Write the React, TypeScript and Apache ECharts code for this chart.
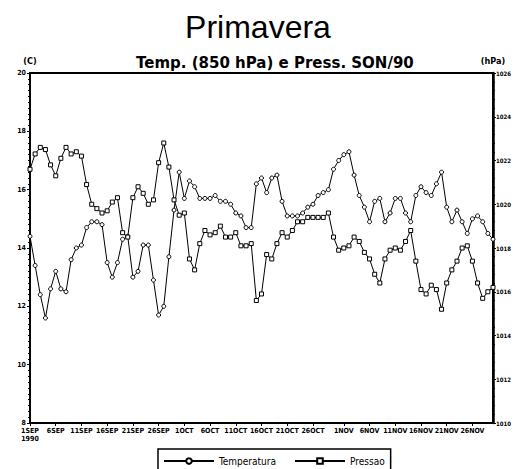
import React, { useEffect, useRef } from "react";
import * as echarts from "echarts";

const months = ["SEP", "OCT", "NOV"];
const monthLengths = [30, 31, 30];
const tickDays = [1, 6, 11, 16, 21, 26];
const yearLabel = "1990";

const temperature = [
  14.4, 13.4, 12.4, 11.6, 12.6, 13.2, 12.6, 12.5, 13.6, 14.0,
  14.1, 14.7, 14.9, 14.9, 14.8, 13.5, 13.0, 13.5, 14.3, 14.4,
  13.0, 13.2, 14.1, 14.1, 12.9, 11.7, 12.0, 13.7, 15.3, 16.6,
  15.7, 16.3, 16.1, 15.7, 15.7, 15.7, 15.8, 15.6, 15.6, 15.5,
  15.2, 15.1, 14.7, 14.7, 16.2, 16.4, 15.9, 16.4, 16.5, 15.6,
  15.1, 15.1, 15.1, 15.2, 15.4, 15.5, 15.8, 15.9, 16.0, 16.7,
  17.0, 17.2, 17.3, 16.5, 15.8, 15.4, 14.9, 15.6, 15.7, 14.9,
  15.2, 15.7, 15.7, 15.2, 14.9, 15.8, 16.1, 15.9, 15.8, 16.2,
  16.6, 15.4, 14.9, 15.3, 14.9, 14.5, 15.0, 15.1, 14.9, 14.5,
  14.3,
];

const pressure = [
  1021.6, 1022.3, 1022.6, 1022.5, 1021.8, 1021.3, 1022.1, 1022.6, 1022.3, 1022.4,
  1022.2, 1020.9, 1020.0, 1019.8, 1019.6, 1019.7, 1020.1, 1020.3, 1018.7, 1018.5,
  1020.3, 1020.8, 1020.5, 1020.0, 1020.2, 1021.9, 1022.8, 1021.7, 1020.2, 1019.5,
  1019.6, 1017.5, 1017.0, 1018.2, 1018.8, 1018.6, 1018.7, 1019.0, 1018.5, 1018.5,
  1018.7, 1018.1, 1018.1, 1018.2, 1015.6, 1015.9, 1017.7, 1017.5, 1018.2, 1018.7,
  1018.5, 1018.8, 1019.2, 1019.2, 1019.4, 1019.4, 1019.4, 1019.4, 1019.6, 1018.5,
  1017.9, 1018.0, 1018.1, 1018.5, 1018.3, 1017.8, 1017.5, 1016.8, 1016.4, 1017.5,
  1017.9, 1018.0, 1017.9, 1018.3, 1018.8, 1017.4, 1016.1, 1015.9, 1016.3, 1016.1,
  1015.2, 1016.4, 1017.0, 1017.4, 1018.0, 1018.1, 1017.4, 1016.4, 1015.7, 1016.0,
  1016.2,
];

const tempAxis = { min: 8, max: 20, step: 2 };
const pressAxis = { min: 1010, max: 1026, step: 2 };

const categories: string[] = [];
const labelSet = new Set<number>();
months.forEach((m, mi) => {
  for (let d = 1; d <= monthLengths[mi]; d++) {
    if (tickDays.includes(d)) labelSet.add(categories.length);
    categories.push(`${d}${m}`);
  }
});

const FONT = "'DejaVu Sans Condensed', 'Liberation Sans Narrow', 'DejaVu Sans', sans-serif";

export default function App() {
  const ref = useRef<HTMLDivElement>(null);
  useEffect(() => {
    if (!ref.current) return;
    const chart = echarts.init(ref.current, undefined, { renderer: "svg" });
    const axisLabelStyle = {
      color: "#000",
      fontSize: 7,
      fontWeight: "bold" as const,
      fontFamily: FONT,
    };
    chart.setOption({
      animation: false,
      backgroundColor: "#fff",
      title: [
        {
          text: "Primavera",
          left: "center",
          top: 6,
          textStyle: {
            fontSize: 32,
            fontWeight: "normal",
            fontFamily: "'Liberation Sans', Arial, sans-serif",
            color: "#000",
          },
        },
        {
          text: "Temp. (850 hPa) e Press. SON/90",
          left: 131,
          top: 50,
          textStyle: {
            fontSize: 15,
            fontWeight: "bold",
            fontFamily: "'DejaVu Sans', sans-serif",
            color: "#000",
          },
        },
      ],
      legend: {
        left: 158,
        top: 449,
        itemWidth: 50,
        itemHeight: 7,
        itemGap: 18,
        padding: [7, 6, 10, 5],
        borderColor: "#000",
        borderWidth: 1.5,
        textStyle: { fontSize: 10, fontFamily: FONT, color: "#000" },
        data: ["Temperatura", "Pressao"],
      },
      grid: { left: 30, right: 23, top: 73, bottom: 46, show: true, borderColor: "#000", borderWidth: 2 },
      xAxis: {
        type: "category",
        boundaryGap: false,
        data: categories,
        axisLine: { show: true, lineStyle: { color: "#000", width: 2 } },
        axisTick: {
          show: true,
          interval: (i: number) => labelSet.has(i),
          length: 3,
          lineStyle: { color: "#000" },
        },
        axisLabel: {
          ...axisLabelStyle,
          interval: (i: number) => labelSet.has(i),
          margin: 4,
          formatter: (v: string, i: number) => (i === 0 ? `${v}\n${yearLabel}` : v),
          lineHeight: 8,
        },
        splitLine: { show: false },
      },
      yAxis: [
        {
          type: "value",
          position: "left",
          min: tempAxis.min,
          max: tempAxis.max,
          interval: tempAxis.step,
          name: "(C)",
          nameLocation: "end",
          nameGap: 8,
          nameTextStyle: { color: "#000", fontSize: 9, fontWeight: "bold", fontFamily: FONT, align: "center" },
          axisLine: { show: true, lineStyle: { color: "#000", width: 2 } },
          axisTick: { show: true, length: 3, lineStyle: { color: "#000" } },
          minorTick: { show: true, splitNumber: 10, length: 2, lineStyle: { color: "#000" } },
          axisLabel: { ...axisLabelStyle, margin: 4, formatter: (v: number) => String(v) },
          splitLine: { show: false },
        },
        {
          type: "value",
          position: "right",
          min: pressAxis.min,
          max: pressAxis.max,
          interval: pressAxis.step,
          name: "(hPa)",
          nameLocation: "end",
          nameGap: 8,
          nameTextStyle: { color: "#000", fontSize: 9, fontWeight: "bold", fontFamily: FONT, align: "center" },
          axisLine: { show: true, lineStyle: { color: "#000", width: 2.5 } },
          axisTick: { show: true, length: 3, lineStyle: { color: "#000" } },
          minorTick: { show: true, splitNumber: 5, length: 2, lineStyle: { color: "#000" } },
          axisLabel: { ...axisLabelStyle, fontSize: 6, margin: 3, formatter: (v: number) => String(v) },
          splitLine: { show: false },
        },
      ],
      series: [
        {
          name: "Temperatura",
          type: "line",
          yAxisIndex: 0,
          data: temperature,
          symbol: "circle",
          symbolSize: 4,
          showAllSymbol: true,
          itemStyle: { color: "#fff", borderColor: "#000", borderWidth: 1 },
          lineStyle: { color: "#000", width: 1 },
        },
        {
          name: "Pressao",
          type: "line",
          yAxisIndex: 1,
          data: pressure,
          symbol: "rect",
          symbolSize: 4,
          showAllSymbol: true,
          itemStyle: { color: "#fff", borderColor: "#000", borderWidth: 1 },
          lineStyle: { color: "#000", width: 1 },
        },
      ],
    });
    return () => chart.dispose();
  }, []);
  return (
    <div
      ref={ref}
      style={{ position: "fixed", left: 0, top: 0, width: 516, height: 469, background: "#fff" }}
    />
  );
}
